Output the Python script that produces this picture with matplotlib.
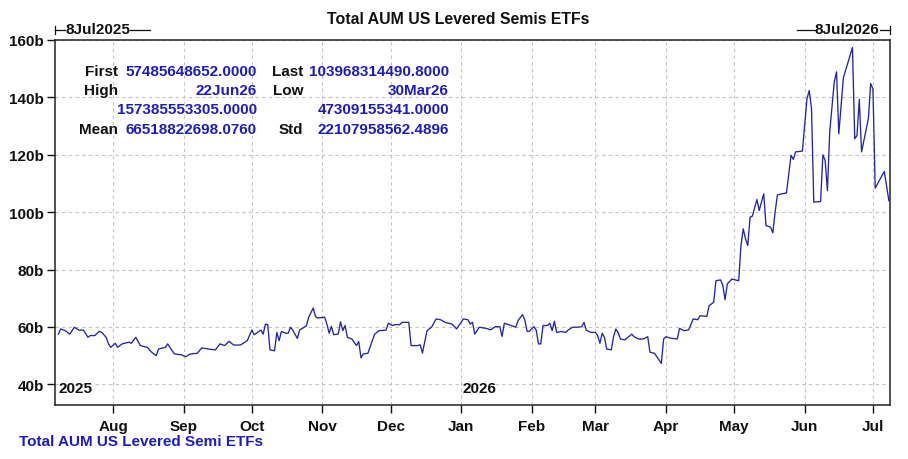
"""Total AUM of US levered semiconductor ETFs, Jul 2025 - Jul 2026."""
import matplotlib
matplotlib.use("Agg")
import matplotlib.pyplot as plt
import matplotlib.dates as mdates
from matplotlib.lines import Line2D
import pandas as pd

plt.rcParams["font.family"] = ["Liberation Sans", "DejaVu Sans"]
plt.rcParams["font.weight"] = "bold"

TITLE = "Total AUM US Levered Semis ETFs"
SERIES_NAME = "Total AUM US Levered Semi ETFs"
START_LABEL = "8Jul2025"
END_LABEL = "8Jul2026"

# values, in billions
dates = [
    "2025-07-08", "2025-07-09", "2025-07-11", "2025-07-13", "2025-07-15", "2025-07-17",
    "2025-07-19", "2025-07-21", "2025-07-22", "2025-07-24", "2025-07-26", "2025-07-27",
    "2025-07-29", "2025-07-30", "2025-07-31", "2025-08-02", "2025-08-03", "2025-08-05",
    "2025-08-08", "2025-08-09", "2025-08-11", "2025-08-13", "2025-08-16", "2025-08-18",
    "2025-08-20", "2025-08-21", "2025-08-24", "2025-08-25", "2025-08-27", "2025-08-28",
    "2025-08-31", "2025-09-02", "2025-09-04", "2025-09-07", "2025-09-09", "2025-09-12",
    "2025-09-15", "2025-09-17", "2025-09-19", "2025-09-21", "2025-09-23", "2025-09-26",
    "2025-09-29", "2025-10-01", "2025-10-02", "2025-10-03", "2025-10-05", "2025-10-06",
    "2025-10-07", "2025-10-08", "2025-10-09", "2025-10-11", "2025-10-12", "2025-10-13",
    "2025-10-14", "2025-10-16", "2025-10-17", "2025-10-18", "2025-10-19", "2025-10-21",
    "2025-10-22", "2025-10-24", "2025-10-25", "2025-10-26", "2025-10-28", "2025-10-29",
    "2025-10-30", "2025-11-02", "2025-11-03", "2025-11-04", "2025-11-05", "2025-11-06",
    "2025-11-08", "2025-11-09", "2025-11-10", "2025-11-11", "2025-11-12", "2025-11-14",
    "2025-11-16", "2025-11-17", "2025-11-18", "2025-11-19", "2025-11-21", "2025-11-23",
    "2025-11-24", "2025-11-26", "2025-11-29", "2025-11-30", "2025-12-02", "2025-12-03",
    "2025-12-05", "2025-12-06", "2025-12-09", "2025-12-10", "2025-12-13", "2025-12-14",
    "2025-12-15", "2025-12-17", "2025-12-19", "2025-12-21", "2025-12-23", "2025-12-25",
    "2025-12-28", "2025-12-30", "2026-01-02", "2026-01-04", "2026-01-05", "2026-01-06",
    "2026-01-07", "2026-01-09", "2026-01-12", "2026-01-14", "2026-01-16", "2026-01-18",
    "2026-01-19", "2026-01-20", "2026-01-23", "2026-01-25", "2026-01-26", "2026-01-28",
    "2026-01-29", "2026-01-30", "2026-01-31", "2026-02-02", "2026-02-03", "2026-02-04",
    "2026-02-05", "2026-02-06", "2026-02-08", "2026-02-09", "2026-02-10", "2026-02-11",
    "2026-02-12", "2026-02-14", "2026-02-16", "2026-02-17", "2026-02-19", "2026-02-21",
    "2026-02-23", "2026-02-24", "2026-02-25", "2026-02-27", "2026-03-01", "2026-03-02",
    "2026-03-03", "2026-03-04", "2026-03-05", "2026-03-06", "2026-03-08", "2026-03-09",
    "2026-03-10", "2026-03-11", "2026-03-12", "2026-03-14", "2026-03-17", "2026-03-18",
    "2026-03-20", "2026-03-22", "2026-03-24", "2026-03-25", "2026-03-27", "2026-03-30",
    "2026-03-31", "2026-04-01", "2026-04-03", "2026-04-06", "2026-04-07", "2026-04-09",
    "2026-04-11", "2026-04-13", "2026-04-15", "2026-04-16", "2026-04-19", "2026-04-20",
    "2026-04-22", "2026-04-23", "2026-04-25", "2026-04-26", "2026-04-27", "2026-04-28",
    "2026-04-30", "2026-05-03", "2026-05-04", "2026-05-05", "2026-05-06", "2026-05-07",
    "2026-05-08", "2026-05-09", "2026-05-11", "2026-05-12", "2026-05-13", "2026-05-14",
    "2026-05-15", "2026-05-17", "2026-05-18", "2026-05-19", "2026-05-20", "2026-05-22",
    "2026-05-24", "2026-05-26", "2026-05-27", "2026-05-28", "2026-05-31", "2026-06-02",
    "2026-06-03", "2026-06-04", "2026-06-05", "2026-06-08", "2026-06-09", "2026-06-10",
    "2026-06-11", "2026-06-12", "2026-06-14", "2026-06-15", "2026-06-16", "2026-06-18",
    "2026-06-22", "2026-06-23", "2026-06-24", "2026-06-25", "2026-06-26", "2026-06-29",
    "2026-06-30", "2026-07-01", "2026-07-02", "2026-07-06", "2026-07-08",
]
aum_bn = [
    57.5, 59.3, 58.7, 57.5, 59.9, 58.9,
    58.9, 56.4, 57.0, 57.0, 58.5, 58.1,
    56.4, 54.1, 52.9, 54.3, 52.9, 54.1,
    54.7, 54.3, 56.4, 53.5, 52.9, 51.2,
    50.0, 52.3, 52.9, 54.1, 51.7, 50.6,
    50.3, 49.6, 50.6, 50.8, 52.7, 52.3,
    52.0, 54.1, 53.5, 55.0, 53.7, 53.7,
    55.2, 58.9, 57.3, 57.8, 58.9, 57.5,
    61.0, 60.8, 52.0, 51.7, 58.1, 55.2,
    58.4, 57.8, 57.8, 59.9, 58.9, 56.0,
    58.9, 59.9, 60.5, 63.4, 66.6, 63.6,
    63.1, 63.4, 61.0, 57.8, 60.2, 57.3,
    57.5, 61.8, 58.7, 60.5, 56.4, 55.8,
    53.5, 54.9, 49.2, 50.6, 50.8, 55.2,
    57.5, 58.7, 58.9, 61.3, 60.5, 60.8,
    60.8, 61.6, 61.6, 53.5, 53.5, 53.8,
    50.9, 58.7, 59.9, 62.8, 62.5, 61.6,
    61.0, 59.3, 62.8, 62.5, 61.0, 61.6,
    57.5, 59.9, 59.5, 59.0, 60.1, 60.1,
    56.7, 61.3, 60.5, 59.9, 62.2, 64.3,
    62.4, 58.5, 58.5, 60.1, 58.9, 54.1,
    54.1, 60.5, 60.5, 61.3, 58.7, 62.0,
    58.1, 58.4, 58.1, 58.9, 59.9, 59.9,
    60.1, 61.6, 58.9, 58.1, 58.1, 57.0,
    54.3, 57.8, 56.4, 52.3, 52.0, 56.6,
    59.3, 58.1, 55.8, 55.5, 57.5, 56.6,
    55.8, 55.8, 56.6, 51.2, 50.8, 47.3,
    55.8, 56.6, 56.1, 55.8, 59.5, 58.7,
    59.0, 62.8, 62.5, 63.9, 63.7, 67.4,
    68.6, 76.1, 76.4, 74.6, 69.5, 75.0,
    76.7, 76.1, 88.4, 94.2, 90.7, 88.4,
    98.3, 98.6, 104.4, 100.6, 103.5, 106.4,
    95.3, 94.8, 92.8, 100.0, 106.0, 106.4,
    106.7, 119.8, 118.4, 121.0, 121.3, 139.5,
    142.4, 136.1, 103.5, 103.7, 120.0, 118.0,
    107.5, 127.9, 145.4, 148.9, 127.3, 146.8,
    157.4, 125.6, 126.7, 139.3, 121.0, 132.6,
    144.8, 143.0, 108.4, 114.2, 104.0,
]

stat_labels = [["First", "Last"], ["High", "Low"], ["", ""], ["Mean", "Std"]]
stat_values = [
    ["57485648652.0000", "103968314490.8000"],
    ["22Jun26", "30Mar26"],
    ["157385553305.0000", "47309155341.0000"],
    ["66518822698.0760", "22107958562.4896"],
]

y_ticks = [40, 60, 80, 100, 120, 140, 160]

BLUE_TXT = "#1c1cc4"
LINE_CLR = "#2424a8"
W, H = 908, 460

s = pd.Series(aum_bn, index=pd.to_datetime(dates))

fig = plt.figure(figsize=(W / 100, H / 100), dpi=100)
ax = fig.add_axes([55 / W, 1 - 406 / H, 835 / W, 365 / H])

ax.plot(s.index, s.values, color=LINE_CLR, lw=0.95)

ax.set_xlim(pd.Timestamp("2025-07-06 12:00"), pd.Timestamp("2026-07-08 12:00"))
ax.set_ylim(32.8, 160)
ax.set_yticks(y_ticks)
ax.set_yticklabels([f"{v}b" for v in y_ticks])
ax.xaxis.set_major_locator(mdates.MonthLocator())
ax.xaxis.set_major_formatter(mdates.DateFormatter("%b"))

ax.grid(True, color="#c4c4c4", lw=0.8, ls=(0, (3, 3)))
ax.tick_params(axis="both", direction="out", length=6, width=1, labelsize=11,
               colors="#111111")
ax.tick_params(axis="x", pad=4)
ax.tick_params(axis="y", pad=2)
for sp in ax.spines.values():
    sp.set_color("#222222")
    sp.set_linewidth(1.1)

# year markers along the bottom of the plot area
yr_tf = ax.get_xaxis_transform()
ax.text(pd.Timestamp("2025-07-08"), 0.028, "2025", transform=yr_tf, fontsize=11,
        ha="left", va="bottom", color="#111111")
ax.text(pd.Timestamp("2026-01-01 12:00"), 0.028, "2026", transform=yr_tf, fontsize=11,
        ha="left", va="bottom", color="#111111")

# header: title and date range markers
fig.text(458 / W, 1 - 20 / H, TITLE, ha="center", va="center", fontsize=11.4,
         color="#111111")
fig.text(65 / W, 1 - 30 / H, START_LABEL, ha="left", va="center", fontsize=11,
         color="#111111")
fig.text(879 / W, 1 - 30 / H, END_LABEL, ha="right", va="center", fontsize=11,
         color="#111111")
for x0, x1 in [(55, 65), (130, 150), (797, 815), (880, 890)]:
    fig.add_artist(Line2D([x0 / W, x1 / W], [1 - 31 / H] * 2, color="#111111", lw=0.9))
for xv in (55, 890):
    fig.add_artist(Line2D([xv / W] * 2, [1 - 27 / H, 1 - 35 / H], color="#111111", lw=0.9))

# summary statistics block
row_y = [72, 91, 110, 130]
for r, yy in enumerate(row_y):
    for c, (lab_x, val_x) in enumerate([(118, 257), (303, 449)]):
        lab = stat_labels[r][c]
        if lab:
            fig.text(lab_x / W, 1 - yy / H, lab, ha="right", va="center",
                     fontsize=11, color="#111111")
        fig.text(val_x / W, 1 - yy / H, stat_values[r][c], ha="right", va="center",
                 fontsize=11, color=BLUE_TXT)

# series legend under the axis
fig.text(19 / W, 1 - 442 / H, SERIES_NAME, ha="left", va="center", fontsize=11,
         color=BLUE_TXT)

fig.savefig("out.png", dpi=100)
